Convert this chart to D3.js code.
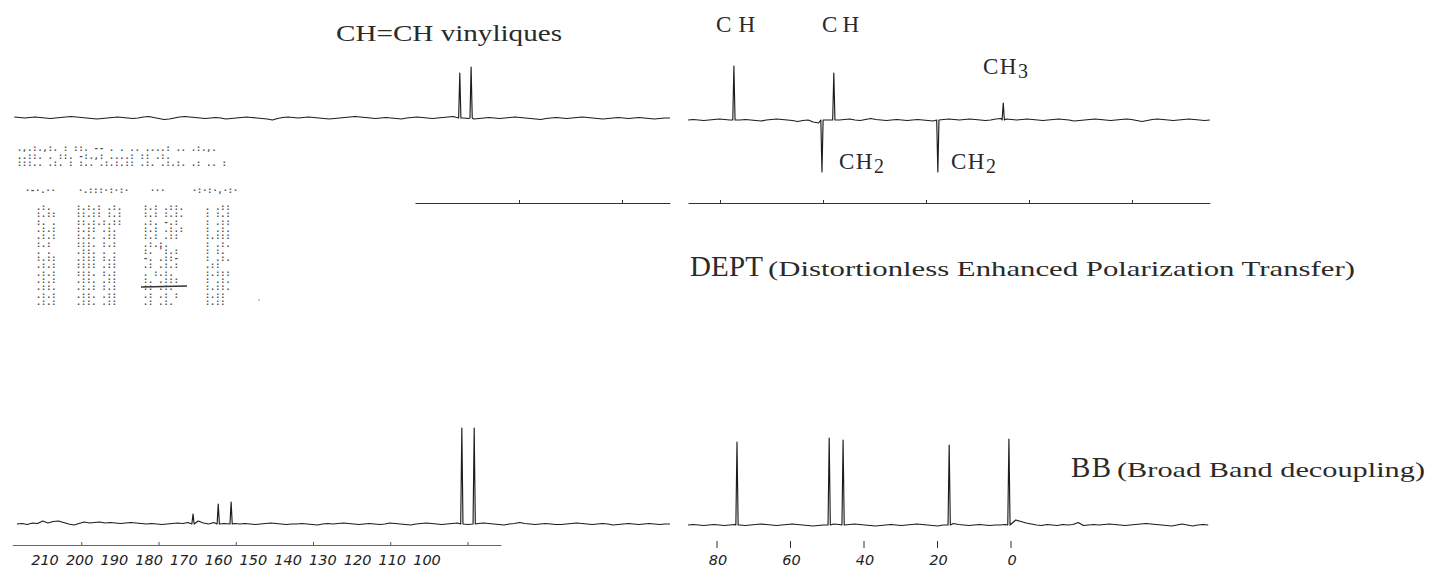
<!DOCTYPE html>
<html><head><meta charset="utf-8">
<script src="https://cdn.jsdelivr.net/npm/d3@7"></script>
<style>body{margin:0;background:#fff}svg{display:block}</style>
</head><body>
<script>
// ================= DATA =================
// DEPT spectrum (top), ppm positions and signed intensities
const deptLeftRange = [218, 90.7];
const deptLeftPeaks = [131.5, 129.3];
const deptLeftHeights = [45, 51];
const deptRightRange = [86.2, -15.1];
const deptRightPeaks = [77.3, 60.2, 57.9, 37.7, 25.0];
const deptRightHeights = [54, -52, 47, -52, 17];

// BB spectrum (bottom)
const bbLeftRange = [217.5, 90.7];
const bbLeftPeaks = [183.3, 178.4, 175.9, 131.1, 128.7];
const bbLeftHeights = [10, 20, 22, 96, 96];
const bbRightRange = [86.2, -14.8];
const bbRightPeaks = [76.7, 58.8, 56.1, 35.5, 23.9];
const bbRightHeights = [83, 87, 85, 80, 86];

// baseline noise
const deptLeftNoise = [1,0.5,0,0.5,1,0.5,0,-0.5,0,0.5,1,1.5,1,0.5,0,-0.5,-1,-0.5,0,0.5,
 1,0.5,0,-0.5,0,1,1.5,0.5,-0.5,-1.5,-1,0,1,1.5,1,0.5,0,-0.5,0,0.5,
 0,-1,-0.5,0,0.5,1,0.5,0,-0.5,-1,-2,-0.5,0.5,1,0.5,0,0.5,1,0.5,0,
 -0.5,-1,-0.5,0,0.5,1,1.5,1,0.5,0,-0.5,0,0.5,0,-0.5,-1,0,0.5,1,0.5,
 0,-0.5,0,0.5,1,1.5,1,0,-0.5,-1,-0.5,0,0.5,0,-0.5,0,0.5,1,0.5,0,
 -0.5,-1,-1.5,-0.5,0,0.5,0,-0.5,0,0.5,1,0.5,0,-0.5,-1,-0.5,0,0.5,0,-0.5,
 0,0.5,0,-0.5,-1,-0.5,0,0];
const deptRightNoise = [0,0.5,0,-0.5,0,0.5,1,0.5,0,-0.5,
 0,0.5,0,-0.5,-1,0,0.5,1,0.5,0,
 -0.5,-1.5,-0.5,0,-2,-3,-1,0,-0.5,0,
 0.5,1,0,-0.5,0.5,1.5,0.5,0,-0.5,0,
 0.5,0,-0.5,0,0.5,0,-0.5,-1,0,0.5,
 1,0.5,0,0.5,1,0.5,0,-0.5,0,1,
 1.5,1,0.5,0,0.5,1,0.5,0,-0.5,0,
 0.5,1,0.5,0,-1,-0.5,0,0.5,1,0.5,
 0,-0.5,0,0.5,1,0.5,-0.5,-1.5,-0.5,0.5,
 1,0.5,0,-0.5,0,0.5,1,0.5,0,-0.5,0];
const bbLeftNoise = [0,0.5,-0.5,1,0.5,3,1,2.5,3,1.5,
 0,-1,0.5,2,1,1.5,2,1,1.5,1,
 0.5,1,1.5,1,0.5,0,0.5,0,-0.5,0,
 0.5,1,0.5,1.5,2,3,1,0,1.5,1,
 0.5,1,0.5,0,0.5,0,-0.5,0,0.5,1,
 0.5,0,-0.5,0,0,0.5,0,-0.5,-1,0,
 0.5,0,0.5,1,0.5,0,-0.5,0,0.5,0,
 -0.5,0,1,0.5,0,-0.5,-1,0,0.5,1,
 0.5,0,-0.5,0,0.5,1,0,-0.5,0,0.5,
 1,0.5,0,-0.5,-1,0,0.5,1.5,0.5,0,
 -0.5,0,0.5,0,-0.5,-0.5,0,0.5,1,0.5,
 0,-0.5,0,0.5,0,-1,-0.5,0,0.5,0,
 -0.5,0,0.5,0,-0.5,0,0];
const bbRightNoise = [0,0.5,0,-0.5,0,0.5,0,-0.5,0,0.5,
 0,-0.5,0,0.5,1,0.5,0,-0.5,0,0.5,
 1,0.5,0,-0.5,-1,-0.5,0,0.5,1,0.5,
 0,0.5,1,0.5,0,-0.5,-1,-0.5,0,0.5,
 0,-0.5,0,0.5,1,0.5,0,-0.5,-1,0,
 0.5,1.5,0.5,0,-0.5,0,0.5,0,-0.5,0,
 0,0.5,6,5,3.5,2,1,0,-0.5,0.5,
 0,-0.5,0.5,0,0.5,2.5,-0.5,0,0.5,0,
 0.5,1,0.5,0,-0.5,0,0.5,1,1.5,1,
 0.5,0,-0.5,-1,0,1,0,-1,0,0.5,0];

// rulers & tick labels
const deptRulerLeftRange = [140.2, 90.7];
const deptRulerLeftTicks = [120, 100];
const deptRulerRightRange = [86.2, -15.1];
const deptRulerRightTicks = [80, 60, 40, 20, 0];
const bottomRulerRange = [218.4, 123.5];
const bottomRulerTicks = [205, 190, 175, 160, 145, 130];
const handLeftLabels = [210, 200, 190, 180, 170, 160, 150, 140, 130, 120, 110, 100];
const handRightLabels = [80, 60, 40, 20, 0];

// scanned table (illegible)
const tableHeadLines = [
 ".,.:.,:.  :      ::.    -- .  .    .. ....:    .. .:.,.",
 "..::.   .        ::.    -:.,:    ....:        ::   .:.",
 ":::..  .:. :     :..  .:.:.::  .:.     .:.:.  .: .. :"
];
const tableHeader = ["·-·.··", "·.:::·:·:·", "···", "·:·:·,·:·"];
const tableCol1 = [".:.", ":.::", ":. .", ".:.:", ".:.:", ":.:", ". .", ":.::", ".:.:", ".:.:", ".:.:", ".::.", ".:.:", ".:.:"];
const tableCol2 = [":.:.: .:.", "::.:: :.:", "::.:.:.::", " :.:: .:.", " :.:. .::", " :::. :.:", " .::. . .", " .::: :.:", " :::: .::", " :::. :.:", " .::. .::", " .:.: :.:", " .::. .::", " .::. .::"];
const tableCol3 = [":.: .::.", ":.: :.:.", ".:. -.:", ":.: .:.:", ":.: .::", "  .:.:.", ":. ':.:", "-. .::-", ".: .:.:", ". :.:.", ":. .:::", ":: .:.", ".: .: :", ".: .:."];
const tableCol4 = [". .::", ": :.:", ": .::", ": .:.", ":.:::", ": .:.", ": :.", ": .:.", " .::", ":.:::", ": .:.", ":.::.", ":.::", ":.::"];

// labels
const labelVinyl = "CH=CH  vinyliques";
const labelCH = "CH";
const labelDEPT = "DEPT";
const labelDEPTlong = "(Distortionless Enhanced Polarization Transfer)";
const labelBB = "BB";
const labelBBlong = "(Broad Band decoupling)";

// ================= DRAWING =================
const W = 1437, H = 569;
const svg = d3.select("body").append("svg").attr("width", W).attr("height", H);

// ppm scales (left portion of the paper is shifted slightly)
const xR = d3.scaleLinear().domain([80, 0]).range([720, 1132]);
const xL = d3.scaleLinear().domain([120, 100]).range([519, 622]);
const xHandL = d3.scaleLinear().domain([210, 100]).range([45, 427]);
const xHandR = d3.scaleLinear().domain([80, 0]).range([718, 1012]);

function yScale(base) { return d3.scaleLinear().domain([0, 100]).range([base, base - 100]); }
const yDeptL = yScale(118), yDeptR = yScale(120), yBbL = yScale(524), yBbR = yScale(525);

function buildSeries(range, noise, peaks, heights) {
  const n = noise.length;
  const pts = noise.map((v, i) => ({ppm: range[0] + (range[1] - range[0]) * i / (n - 1), v}));
  const clean = pts.filter(p => !peaks.some(q => Math.abs(q - p.ppm) < 0.35));
  peaks.forEach((p, k) => {
    clean.push({ppm: p + 0.22, v: 0}, {ppm: p, v: heights[k]}, {ppm: p - 0.22, v: 0});
  });
  clean.sort((a, b) => b.ppm - a.ppm);
  return clean;
}

function drawTrace(series, xs, ys) {
  svg.append("path").datum(series)
    .attr("fill", "none").attr("stroke", "#1c1c1c").attr("stroke-width", 1.15)
    .attr("stroke-linejoin", "round")
    .attr("d", d3.line().x(d => xs(d.ppm)).y(d => ys(d.v)));
}

drawTrace(buildSeries(deptLeftRange, deptLeftNoise, deptLeftPeaks, deptLeftHeights), xL, yDeptL);
drawTrace(buildSeries(deptRightRange, deptRightNoise, deptRightPeaks, deptRightHeights), xR, yDeptR);
drawTrace(buildSeries(bbLeftRange, bbLeftNoise, bbLeftPeaks, bbLeftHeights), xL, yBbL);
drawTrace(buildSeries(bbRightRange, bbRightNoise, bbRightPeaks, bbRightHeights), xR, yBbR);

// rulers
function ruler(xs, range, ticks, y, col, sw) {
  const g = svg.append("g").attr("transform", `translate(0,${y})`);
  const ax = d3.axisTop(d3.scaleLinear().domain(range).range(range.map(xs)))
    .tickValues(ticks).tickSize(3).tickSizeOuter(0).tickFormat("");
  g.call(ax);
  g.select(".domain").attr("stroke", col).attr("stroke-width", sw);
  g.selectAll(".tick line").attr("stroke", col);
}
ruler(xL, deptRulerLeftRange, deptRulerLeftTicks, 203, "#333", 1.1);
ruler(xR, deptRulerRightRange, deptRulerRightTicks, 203, "#333", 1.1);
ruler(xL, bottomRulerRange, bottomRulerTicks, 545, "#555", 0.9);

// handwritten axis labels
const hand = svg.append("g").attr("font-family", "'DejaVu Sans', sans-serif")
  .attr("font-style", "italic").attr("font-size", 14.5).attr("fill", "#222");
hand.selectAll("text.l").data(handLeftLabels).join("text")
  .attr("x", d => xHandL(d)).attr("y", 565).attr("text-anchor", "middle").text(d => d);
hand.selectAll("text.r").data(handRightLabels).join("text")
  .attr("x", d => xHandR(d)).attr("y", 565).attr("text-anchor", "middle").text(d => d);
svg.selectAll("line.hm").data(handRightLabels).join("line")
  .attr("x1", d => xHandR(d) - 1).attr("x2", d => xHandR(d) - 1)
  .attr("y1", 541).attr("y2", 548).attr("stroke", "#333").attr("stroke-width", 1);

// labels
const serif = "'Liberation Serif', 'DejaVu Serif', serif";
function label(txt, x, y, size, len, adj) {
  const t = svg.append("text").attr("x", x).attr("y", y).attr("font-family", serif)
    .attr("font-size", size).attr("fill", "#2a2a2a").text(txt);
  if (len) t.attr("textLength", len).attr("lengthAdjust", adj || "spacing");
  return t;
}
label(labelVinyl, 336, 41, 23, 226, "spacingAndGlyphs");
label(labelCH, 716, 32, 23, 39);
label(labelCH, 822, 32, 23, 37);
function subLabel(base, sub, x, y) {
  const t = svg.append("text").attr("x", x).attr("y", y).attr("font-family", serif)
    .attr("font-size", 23).attr("fill", "#2a2a2a").attr("letter-spacing", 1.5);
  t.append("tspan").text(base);
  t.append("tspan").attr("dy", 4).attr("font-size", 20).text(sub);
}
subLabel("CH", "3", 983, 74);
subLabel("CH", "2", 839, 169);
subLabel("CH", "2", 951, 169);
label(labelDEPT, 690, 276, 29, 73);
label(labelDEPTlong, 768, 276, 22, 587, "spacingAndGlyphs");
label(labelBB, 1071, 477, 29, 40);
label(labelBBlong, 1117, 477, 22, 308, "spacingAndGlyphs");

// scanned table blob
const tg = svg.append("g").attr("font-family", "'DejaVu Sans Mono', monospace")
  .attr("font-size", 8.5).attr("font-weight", "bold").attr("fill", "#4a4a4a").attr("opacity", 0.97);
tg.selectAll("text.h").data(tableHeadLines).join("text")
  .attr("x", 17).attr("y", (d, i) => 151 + i * 7.5).text(d => d);
const colX = [25, 78, 150, 192];
tg.selectAll("text.c").data(tableHeader).join("text")
  .attr("x", (d, i) => colX[i]).attr("y", 193).text(d => d);
const bodyX = [36, 76, 143, 205];
[tableCol1, tableCol2, tableCol3, tableCol4].forEach((col, c) => {
  tg.selectAll(null).data(col).join("text")
    .attr("x", bodyX[c]).attr("y", (d, i) => 210 + i * 7.3).text(d => d);
});
svg.append("line").attr("x1", 141).attr("x2", 187).attr("y1", 287).attr("y2", 286)
  .attr("stroke", "#333").attr("stroke-width", 1.3);
svg.append("circle").attr("cx", 259).attr("cy", 300).attr("r", 0.8).attr("fill", "#888");
</script>
</body></html>
